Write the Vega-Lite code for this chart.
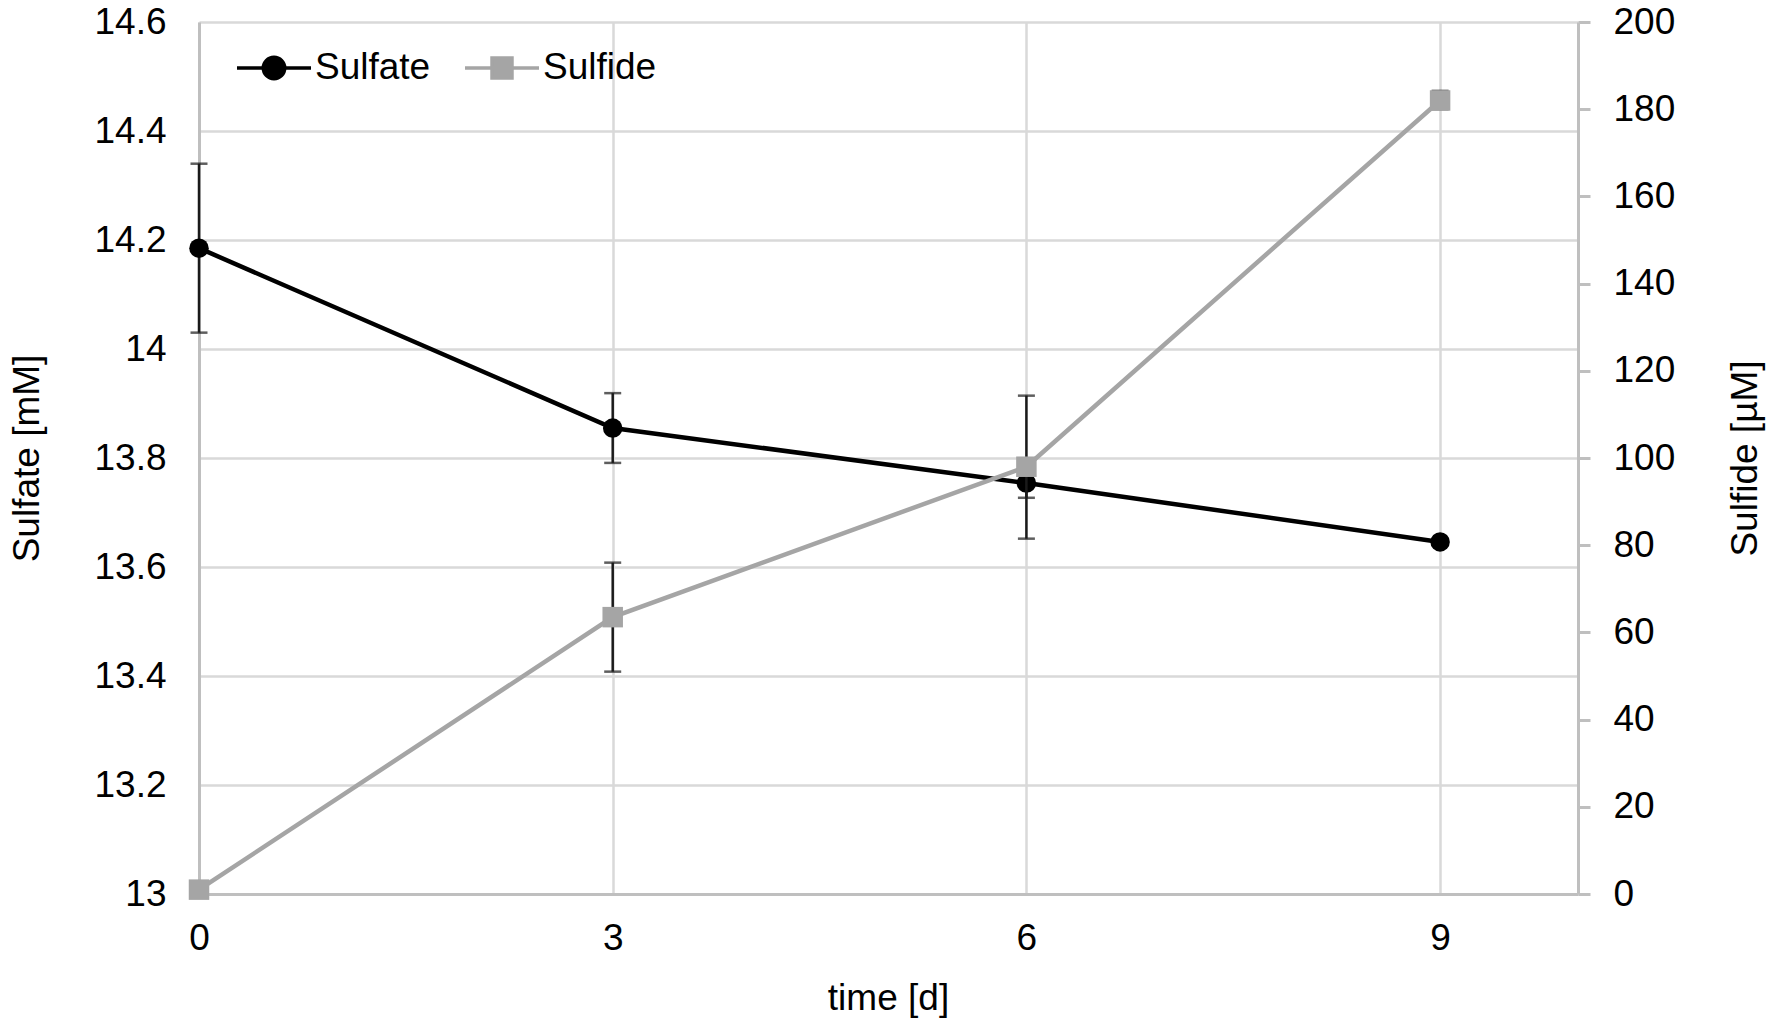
{
  "$schema": "https://vega.github.io/schema/vega-lite/v6.json",
  "width": 1379,
  "height": 872,
  "autosize": {"type": "none"},
  "padding": {"left": 199, "top": 22, "right": 194, "bottom": 130},
  "background": "white",
  "config": {
    "font": "Liberation Sans",
    "view": {"stroke": null},
    "axis": {
      "labelFont": "Liberation Sans",
      "titleFont": "Liberation Sans",
      "labelFontSize": 37,
      "titleFontSize": 37,
      "titleFontWeight": "normal",
      "labelColor": "#000000",
      "titleColor": "#000000",
      "labelFlush": false,
      "domainColor": "#bfbfbf",
      "domainWidth": 3,
      "gridColor": "#d9d9d9",
      "gridWidth": 2.5,
      "gridOpacity": 1
    },
    "legend": {
      "labelFont": "Liberation Sans",
      "labelFontSize": 37,
      "labelColor": "#000000"
    }
  },
  "data": {
    "values": [
      {"series": "Sulfate", "t": 0, "value": 14.185, "lo": 14.03, "hi": 14.34},
      {"series": "Sulfate", "t": 3, "value": 13.855, "lo": 13.791, "hi": 13.919},
      {"series": "Sulfate", "t": 6, "value": 13.754, "lo": 13.727, "hi": 13.781},
      {"series": "Sulfate", "t": 9, "value": 13.646, "lo": 13.642, "hi": 13.65},
      {"series": "Sulfide", "t": 0, "value": 1, "lo": 0.5, "hi": 1.5},
      {"series": "Sulfide", "t": 3, "value": 63.5, "lo": 51, "hi": 76},
      {"series": "Sulfide", "t": 6, "value": 98, "lo": 81.5, "hi": 114.3},
      {"series": "Sulfide", "t": 9, "value": 182, "lo": 180, "hi": 184.2}
    ]
  },
  "encoding": {
    "x": {
      "field": "t",
      "type": "quantitative",
      "scale": {"domain": [0, 10], "nice": false, "zero": false},
      "axis": {
        "values": [0, 3, 6, 9],
        "grid": true,
        "ticks": false,
        "labelPadding": 26,
        "title": "time [d]",
        "titleX": 689,
        "titleY": 104,
        "titleBaseline": "middle"
      }
    }
  },
  "layer": [
    {
      "transform": [{"filter": "datum.series === 'Sulfate'"}],
      "encoding": {
        "y": {
          "field": "value",
          "type": "quantitative",
          "scale": {"domain": [13, 14.6], "nice": false, "zero": false},
          "axis": {
            "orient": "left",
            "values": [13, 13.2, 13.4, 13.6, 13.8, 14, 14.2, 14.4, 14.6],
            "format": "~g",
            "grid": true,
            "ticks": false,
            "labelPadding": 33,
            "title": "Sulfate [mM]",
            "titleAngle": -90,
            "titleX": -172,
            "titleY": 436,
            "titleBaseline": "middle",
            "titleAlign": "center"
          }
        }
      },
      "layer": [
        {
          "mark": {"type": "rule", "color": "#1a1a1a", "strokeWidth": 2.5},
          "encoding": {"y": {"field": "lo", "type": "quantitative"}, "y2": {"field": "hi"}}
        },
        {
          "mark": {"type": "tick", "orient": "horizontal", "color": "#1a1a1a", "size": 17, "thickness": 2.5},
          "encoding": {"y": {"field": "lo", "type": "quantitative"}}
        },
        {
          "mark": {"type": "tick", "orient": "horizontal", "color": "#1a1a1a", "size": 17, "thickness": 2.5},
          "encoding": {"y": {"field": "hi", "type": "quantitative"}}
        },
        {
          "mark": {"type": "line", "color": "#000000", "strokeWidth": 4.5}
        },
        {
          "mark": {"type": "point", "shape": "circle", "filled": true, "color": "#000000", "size": 380, "opacity": 1}
        }
      ]
    },
    {
      "transform": [{"filter": "datum.series === 'Sulfide'"}],
      "encoding": {
        "y": {
          "field": "value",
          "type": "quantitative",
          "scale": {"domain": [0, 200], "nice": false},
          "axis": {
            "orient": "right",
            "values": [0, 20, 40, 60, 80, 100, 120, 140, 160, 180, 200],
            "grid": false,
            "ticks": true,
            "tickSize": 12,
            "tickColor": "#bfbfbf",
            "tickWidth": 3,
            "labelPadding": 23,
            "title": "Sulfide [µM]",
            "titleAngle": -90,
            "titleX": 167,
            "titleY": 436,
            "titleBaseline": "middle",
            "titleAlign": "center"
          }
        }
      },
      "layer": [
        {
          "mark": {"type": "rule", "color": "#1a1a1a", "strokeWidth": 2.5},
          "encoding": {"y": {"field": "lo", "type": "quantitative"}, "y2": {"field": "hi"}}
        },
        {
          "mark": {"type": "tick", "orient": "horizontal", "color": "#1a1a1a", "size": 17, "thickness": 2.5},
          "encoding": {"y": {"field": "lo", "type": "quantitative"}}
        },
        {
          "mark": {"type": "tick", "orient": "horizontal", "color": "#1a1a1a", "size": 17, "thickness": 2.5},
          "encoding": {"y": {"field": "hi", "type": "quantitative"}}
        },
        {
          "mark": {"type": "line", "color": "#a5a5a5", "strokeWidth": 4.5}
        },
        {
          "mark": {"type": "point", "shape": "square", "filled": true, "color": "#a5a5a5", "size": 420, "opacity": 1}
        }
      ]
    },
    {
      "transform": [{"filter": "false"}],
      "mark": {"type": "point", "filled": true, "opacity": 1, "strokeWidth": 3},
      "encoding": {
        "shape": {
          "field": "series",
          "type": "nominal",
          "scale": {
            "domain": ["Sulfate", "Sulfide"],
            "range": [
              "M-1,0H1M-0.29,0A0.29,0.29,0,1,1,0.29,0A0.29,0.29,0,1,1,-0.29,0Z",
              "M-1,0H1M-0.27,-0.27H0.27V0.27H-0.27Z"
            ]
          },
          "legend": {
            "title": null,
            "orient": "none",
            "direction": "horizontal",
            "legendX": 36,
            "legendY": 7,
            "padding": 0,
            "symbolSize": 5476,
            "symbolStrokeWidth": 3.5,
            "labelOffset": 2,
            "columnPadding": 27
          }
        },
        "fill": {
          "field": "series",
          "type": "nominal",
          "scale": {"domain": ["Sulfate", "Sulfide"], "range": ["#000000", "#a5a5a5"]},
          "legend": {
            "title": null,
            "orient": "none",
            "direction": "horizontal",
            "legendX": 36,
            "legendY": 7,
            "padding": 0,
            "symbolSize": 5476,
            "symbolStrokeWidth": 3.5,
            "labelOffset": 2,
            "columnPadding": 27
          }
        },
        "stroke": {
          "field": "series",
          "type": "nominal",
          "scale": {"domain": ["Sulfate", "Sulfide"], "range": ["#000000", "#a5a5a5"]},
          "legend": {
            "title": null,
            "orient": "none",
            "direction": "horizontal",
            "legendX": 36,
            "legendY": 7,
            "padding": 0,
            "symbolSize": 5476,
            "symbolStrokeWidth": 3.5,
            "labelOffset": 2,
            "columnPadding": 27
          }
        }
      }
    }
  ],
  "resolve": {"scale": {"y": "independent"}}
}
